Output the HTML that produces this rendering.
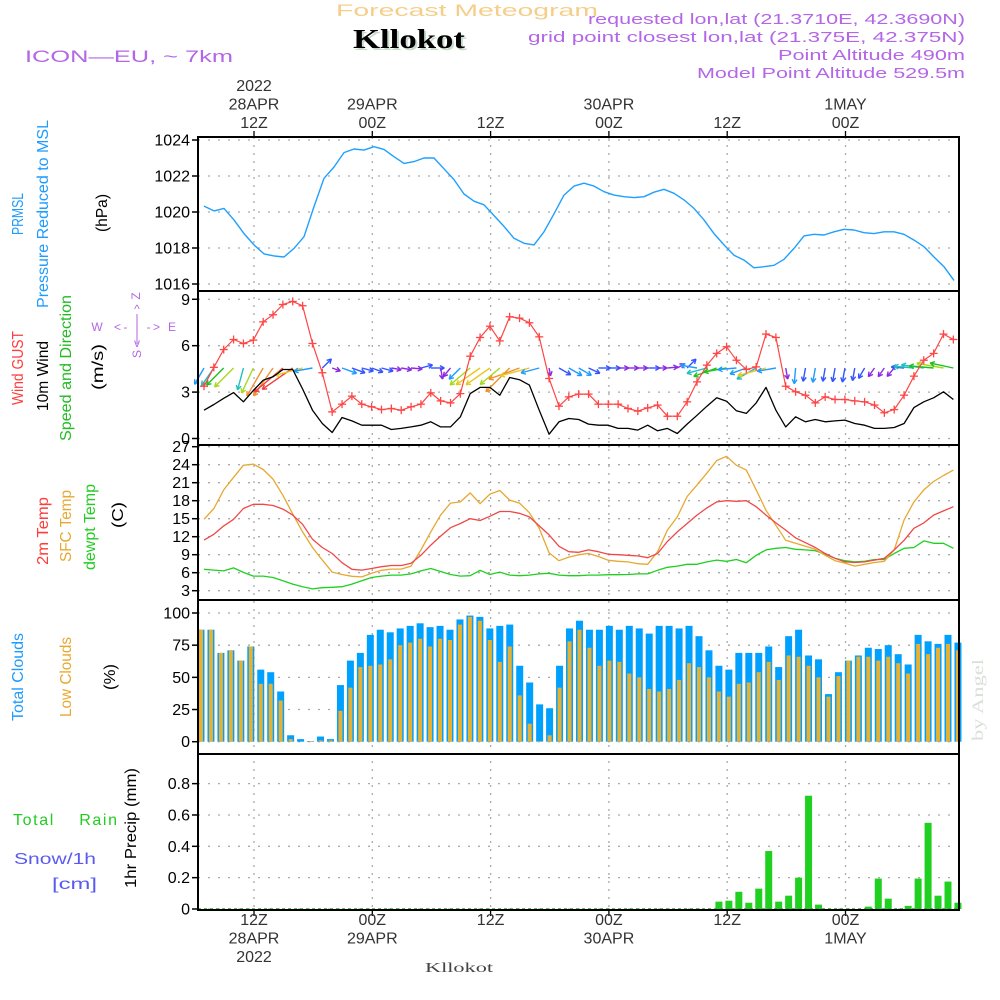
<!DOCTYPE html>
<html><head><meta charset="utf-8"><title>Forecast Meteogram - Kllokot</title>
<style>
html,body{margin:0;padding:0;background:#fff;}
svg{display:block;font-family:"Liberation Sans",sans-serif;}
</style></head>
<body>
<svg id="chart" width="1000" height="1000" viewBox="0 0 1000 1000" xmlns="http://www.w3.org/2000/svg">
<rect x="0" y="0" width="1000" height="1000" fill="#fff"/>
<g>
<text x="467" y="16" text-anchor="middle" fill="#f5cf8a" font-size="17" textLength="262" lengthAdjust="spacingAndGlyphs">Forecast Meteogram</text>
<text x="411" y="50" text-anchor="middle" fill="#c9dccb" font-size="27" font-weight="bold" font-family="Liberation Serif, serif" textLength="112" lengthAdjust="spacingAndGlyphs">Kllokot</text>
<text x="409" y="48" text-anchor="middle" fill="#000" font-size="27" font-weight="bold" font-family="Liberation Serif, serif" textLength="112" lengthAdjust="spacingAndGlyphs">Kllokot</text>
<text x="25" y="62" fill="#b366e6" font-size="17" textLength="208" lengthAdjust="spacingAndGlyphs">ICON—EU, ~ 7km</text>
<text x="965" y="24" text-anchor="end" fill="#b366e6" font-size="15" textLength="377" lengthAdjust="spacingAndGlyphs">requested lon,lat (21.3710E, 42.3690N)</text>
<text x="965" y="42" text-anchor="end" fill="#b366e6" font-size="15" textLength="437" lengthAdjust="spacingAndGlyphs">grid point closest lon,lat (21.375E, 42.375N)</text>
<text x="965" y="60" text-anchor="end" fill="#b366e6" font-size="15" textLength="187" lengthAdjust="spacingAndGlyphs">Point Altitude 490m</text>
<text x="965" y="78" text-anchor="end" fill="#b366e6" font-size="15" textLength="268" lengthAdjust="spacingAndGlyphs">Model Point Altitude 529.5m</text>
</g>
<g id="labels" font-size="16">
<text transform="translate(23,214) rotate(-90)" text-anchor="middle" fill="#1e9bff" textLength="42" lengthAdjust="spacingAndGlyphs">PRMSL</text>
<text transform="translate(48,214) rotate(-90)" text-anchor="middle" fill="#1e9bff" textLength="188" lengthAdjust="spacingAndGlyphs">Pressure Reduced to MSL</text>
<text transform="translate(107,213) rotate(-90)" text-anchor="middle" fill="#000" textLength="38" lengthAdjust="spacingAndGlyphs">(hPa)</text>
<text transform="translate(23,368) rotate(-90)" text-anchor="middle" fill="#ff3b3b" textLength="74" lengthAdjust="spacingAndGlyphs">Wind GUST</text>
<text transform="translate(48,376) rotate(-90)" text-anchor="middle" fill="#000" textLength="70" lengthAdjust="spacingAndGlyphs">10m Wind</text>
<text transform="translate(71,368) rotate(-90)" text-anchor="middle" fill="#22bb22" textLength="146" lengthAdjust="spacingAndGlyphs">Speed and Direction</text>
<text transform="translate(103,367) rotate(-90)" text-anchor="middle" fill="#000" textLength="46" lengthAdjust="spacingAndGlyphs">(m/s)</text>
<g fill="#b366e6" font-size="12">
<text x="136" y="300" text-anchor="middle" transform="rotate(-90 136 296)">Z</text>
<text x="97" y="331" text-anchor="middle">W</text>
<text x="137" y="331" text-anchor="middle" textLength="46" lengthAdjust="spacing">&lt;- | -&gt;</text>
<text x="172" y="331" text-anchor="middle">E</text>
<text x="137" y="313" text-anchor="middle">^</text>
<line x1="137" y1="314" x2="137" y2="344" stroke="#b366e6" stroke-width="1"/>
<text x="137" y="347" text-anchor="middle">v</text>
<text x="137" y="358" text-anchor="middle" transform="rotate(-90 137 354)">S</text>
</g>
<text transform="translate(48,531) rotate(-90)" text-anchor="middle" fill="#ff3b3b" textLength="68" lengthAdjust="spacingAndGlyphs">2m Temp</text>
<text transform="translate(71,526) rotate(-90)" text-anchor="middle" fill="#e8a830" textLength="72" lengthAdjust="spacingAndGlyphs">SFC Temp</text>
<text transform="translate(95,527) rotate(-90)" text-anchor="middle" fill="#22cc22" textLength="86" lengthAdjust="spacingAndGlyphs">dewpt Temp</text>
<text transform="translate(123,515) rotate(-90)" text-anchor="middle" fill="#000" textLength="26" lengthAdjust="spacingAndGlyphs">(C)</text>
<text transform="translate(23,677) rotate(-90)" text-anchor="middle" fill="#1e9bff" textLength="88" lengthAdjust="spacingAndGlyphs">Total Clouds</text>
<text transform="translate(71,677) rotate(-90)" text-anchor="middle" fill="#e8a830" textLength="80" lengthAdjust="spacingAndGlyphs">Low Clouds</text>
<text transform="translate(115,677) rotate(-90)" text-anchor="middle" fill="#000" textLength="26" lengthAdjust="spacingAndGlyphs">(%)</text>
<text x="13" y="825" fill="#22cc22" textLength="104" lengthAdjust="spacing">Total&#160;&#160;&#160;&#160;Rain</text>
<text x="14" y="864" fill="#5a5af0" textLength="82" lengthAdjust="spacingAndGlyphs">Snow/1h</text>
<text x="52" y="889" fill="#5a5af0" textLength="45" lengthAdjust="spacingAndGlyphs">[cm]</text>
<text transform="translate(136,828) rotate(-90)" text-anchor="middle" fill="#000" textLength="120" lengthAdjust="spacingAndGlyphs">1hr Precip (mm)</text>
<text transform="translate(983,700) rotate(-90)" text-anchor="middle" fill="#d8e0d8" font-family="Liberation Serif, serif" font-size="16" textLength="82" lengthAdjust="spacingAndGlyphs">by Angel</text>
<text x="459" y="972" text-anchor="middle" fill="#444" font-family="Liberation Serif, serif" font-size="14" textLength="68" lengthAdjust="spacingAndGlyphs">Kllokot</text>
</g>
<g id="plot"></g>
</svg>
<script>
// ---- data ----
var pressure = [1020.33,1020.06,1020.2,1019.56,1018.8,1018.17,1017.67,1017.56,1017.5,1017.98,1018.63,1020.3,1021.87,1022.5,1023.3,1023.5,1023.44,1023.63,1023.48,1023.07,1022.7,1022.8,1023.0,1023.0,1022.4,1021.8,1021.0,1020.6,1020.4,1019.8,1019.2,1018.54,1018.26,1018.17,1018.9,1019.9,1020.94,1021.44,1021.6,1021.44,1021.13,1020.94,1020.85,1020.8,1020.85,1021.1,1021.26,1021.04,1020.67,1020.2,1019.56,1018.8,1018.17,1017.6,1017.33,1016.9,1016.96,1017.04,1017.37,1017.98,1018.67,1018.76,1018.72,1018.9,1019.04,1019.0,1018.85,1018.8,1018.9,1018.9,1018.76,1018.44,1018.07,1017.5,1016.96,1016.2];
var gust = [3.38,4.6,5.75,6.4,6.14,6.36,7.54,8.0,8.66,8.86,8.58,6.14,4.25,1.72,2.22,2.74,2.22,2.05,1.87,1.94,1.83,2.05,2.22,2.95,2.43,2.3,2.9,5.32,6.53,7.26,6.31,7.87,7.78,7.48,6.57,3.88,2.09,2.69,2.87,2.87,2.22,2.22,2.22,1.94,1.77,1.98,2.16,1.44,1.44,2.37,3.66,4.74,5.5,5.93,5.06,4.46,4.63,6.75,6.53,3.38,3.02,2.8,2.3,2.69,2.52,2.52,2.43,2.37,2.16,1.66,1.87,2.8,4.03,5.06,5.5,6.75,6.4];
var wind10m = [1.83,2.2,2.6,2.97,2.37,3.1,3.77,3.99,4.46,4.46,3.2,1.83,0.97,0.39,1.36,1.14,0.86,0.86,0.86,0.58,0.65,0.75,0.86,1.08,0.75,0.75,1.4,2.9,3.3,3.3,2.8,3.94,3.8,3.45,1.83,0.28,1.08,1.29,1.23,0.93,0.86,0.86,0.65,0.65,0.54,0.86,0.5,0.65,0.32,0.93,1.5,2.09,2.63,2.41,1.79,1.62,2.3,3.3,1.83,0.75,1.4,1.08,1.23,1.08,1.14,1.19,0.97,0.86,0.65,0.65,0.71,0.97,2.0,2.37,2.63,3.02,2.52];
var windDir = [240,235,225,225,255,245,240,235,220,215,195,190,45,-20,-20,-20,-15,-20,-15,-10,-10,-5,15,0,-80,230,225,220,215,215,220,225,200,195,195,-80,-30,-30,-30,-25,0,0,0,0,0,0,0,5,30,45,170,195,200,190,185,200,210,195,190,-80,-95,-100,-100,-100,-100,-100,-100,-120,-125,-125,-130,175,175,172,175,170,168];
var temp2m = [11.44,12.4,13.8,14.9,16.7,17.4,17.4,17.2,16.6,15.6,14.06,11.56,10.2,9.2,7.67,6.56,6.44,6.7,7.0,7.2,7.2,7.56,8.9,10.6,12.1,13.5,14.2,15.0,14.7,15.4,16.2,16.2,15.9,15.3,13.8,12.3,10.4,9.5,9.4,9.8,9.5,9.06,9.0,8.9,8.8,8.5,9.2,11.2,12.8,14.2,15.6,16.8,17.8,18.0,17.9,18.0,17.0,15.6,14.3,13.1,11.8,11.0,10.2,9.2,8.4,7.8,7.7,7.8,8.1,8.4,9.8,11.4,13.4,14.3,15.6,16.3,17.0];
var tempSfc = [14.9,16.7,19.8,21.9,23.9,24.1,23.2,21.6,18.9,15.8,12.8,10.2,8.1,6.1,5.7,5.4,5.3,5.9,6.4,6.6,6.6,7.1,9.8,12.8,15.6,17.6,17.8,19.3,17.5,19.1,19.7,18.1,17.6,16.0,13.4,9.3,8.0,8.6,9.0,9.2,8.7,8.06,7.9,7.8,7.5,7.4,9.5,13.1,15.3,18.7,20.6,22.6,24.7,25.4,23.9,23.1,19.8,16.4,13.9,11.4,10.9,10.4,9.9,8.9,8.0,7.6,7.1,7.4,7.7,7.9,9.8,14.8,17.8,19.8,21.2,22.2,23.1];
var dewpt = [6.56,6.44,6.3,6.8,6.05,5.44,5.44,5.2,4.67,4.1,3.67,3.3,3.5,3.56,3.67,4.1,4.67,5.2,5.44,5.6,5.6,5.8,6.3,6.7,6.2,5.7,5.44,5.5,6.4,5.7,6.1,5.6,5.5,5.6,5.8,5.9,5.6,5.5,5.5,5.6,5.6,5.67,5.67,5.7,5.8,5.8,6.4,6.9,7.1,7.4,7.4,7.8,8.1,7.9,8.2,7.67,8.9,9.8,10.06,10.2,9.9,9.8,9.67,9.1,8.4,8.0,7.8,7.9,8.2,8.2,9.2,10.06,10.2,11.3,10.9,10.9,10.06];
var totalClouds = [87,87,69,71,63,74,56,54,39,5,2,0.5,4,2,44,63,69,83,87,85,88,90,92,89,90,87,95,98,97,88,90,91,59,46,29,26,59,88,94,87,87,90,87,90,88,84,90,90,88,90,82,71,59,56,69,69,69,74,58,82,87,67,64,37,54,63,67,73,72,75,68,60,83,78,76,83,77];
var lowClouds = [87,87,69,71,63,74,45,45,32,2,0,0.5,1,1,24,42,58,59,60,64,75,77,80,74,80,79,91,97,94,79,62,74,36,14,0.5,5,42,78,87,73,59,63,62,53,50,41,39,41,48,61,58,50,39,35,45,46,54,62,48,67,66,59,50,35,51,63,66,66,63,66,61,53,76,68,73,76,71];
var rain = [0,0,0,0,0,0,0,0,0,0,0,0,0,0,0,0,0,0,0,0,0,0,0,0,0,0,0,0,0,0,0,0,0,0,0,0,0,0,0,0,0,0,0,0,0,0,0,0,0,0,0,0,0.047,0.053,0.11,0.04,0.13,0.37,0.047,0.085,0.2,0.723,0.028,0,0,0,0,0.015,0.194,0.066,0,0.02,0.194,0.55,0.085,0.175,0.04];
var pressTicks = [1016,1018,1020,1022,1024];
var windTicks = [0,3,6,9];
var tempTicks = [3,6,9,12,15,18,21,24,27];
var cloudTicks = [0,25,50,75,100];
var rainTicks = [0,0.2,0.4,0.6,0.8];
var rainTickLabels = ["0","0.2","0.4","0.6","0.8"];
var topTimeLabels = [["2022","28APR","12Z"],["","29APR","00Z"],["","","12Z"],["","30APR","00Z"],["","","12Z"],["","1MAY","00Z"]];
var bottomTimeLabels = [["12Z","28APR","2022"],["00Z","29APR",""],["12Z","",""],["00Z","30APR",""],["12Z","",""],["00Z","1MAY",""]];

// ---- axes ----
var NS = "http://www.w3.org/2000/svg";
var plot = document.getElementById('plot');
var X0 = 198, X1 = 959;
function xL(k){ return 204 + k*9.86; }
function xB(k){ return 201 + k*9.96; }
function xP(k){ return 204 + k*10; }
function xG(j){ return 254 + j*118.3; }
function yP(v){ return 284 - (v-1016)*18; }
function yW(v){ return 438.5 - v*15.47; }
function yT(v){ return 590.7 - (v-3)*6; }
function yC(v){ return 741.7 - v*1.287; }
function yR(v){ return 909 - v*156.7; }
var panels = [[137,291],[291,445],[445,600],[600,754],[754,910]];

function el(tag, attrs, parent){
  var e = document.createElementNS(NS, tag);
  for (var a in attrs) e.setAttribute(a, attrs[a]);
  (parent||plot).appendChild(e);
  return e;
}
function poly(xs, ys, color, w, name){
  var pts = [];
  for (var i=0;i<xs.length;i++) pts.push(xs[i].toFixed(1)+','+ys[i].toFixed(1));
  var p = el('polyline',{points:pts.join(' '),fill:'none',stroke:color,'stroke-width':w,'stroke-linejoin':'round'});
  
  
  return p;
}

var grid = el('g',{});


function hgrid(ticks, yf, labels){
  for (var i=0;i<ticks.length;i++){
    var y = yf(ticks[i]);
    el('line',{x1:X0,x2:X1,y1:y,y2:y,stroke:'#aaa','stroke-width':1.3,'stroke-dasharray':'2,8'},grid);
    el('line',{x1:X0-6,x2:X0,y1:y,y2:y,stroke:'#000','stroke-width':1.5},grid);
    var t = el('text',{x:X0-8,y:y+5.5,'text-anchor':'end','font-size':16,fill:'#000'});
    t.textContent = labels ? labels[i] : String(ticks[i]);
    
    
  }
}
hgrid(pressTicks, yP, null);
hgrid(windTicks, yW, null);
hgrid(tempTicks, yT, null);
hgrid(cloudTicks, yC, null);
hgrid(rainTicks, yR, rainTickLabels);
for (var j=0;j<6;j++){
  var gx = xG(j);
  el('line',{x1:gx,x2:gx,y1:137,y2:910,stroke:'#aaa','stroke-width':1.3,'stroke-dasharray':'2,6'},grid);
  el('line',{x1:gx,x2:gx,y1:131,y2:137,stroke:'#000','stroke-width':1.3},grid);
  el('line',{x1:gx,x2:gx,y1:910,y2:916,stroke:'#000','stroke-width':1.3},grid);
  for (var r=0;r<3;r++){
    if (topTimeLabels[j][r]){
      var t = el('text',{x:gx,y:91+r*18.5,'text-anchor':'middle','font-size':16,fill:'#333'});
      t.textContent = topTimeLabels[j][r];
      
      
    }
    if (bottomTimeLabels[j][r]){
      var t2 = el('text',{x:gx,y:925+r*18.5,'text-anchor':'middle','font-size':16,fill:'#333'});
      t2.textContent = bottomTimeLabels[j][r];
      
      
    }
  }
}

var cg = el('g',{});


for (var k=0;k<totalClouds.length;k++){
  var bx = xB(k);
  var b = el('rect',{x:bx-3.5,y:yC(totalClouds[k]),width:7,height:yC(0)-yC(totalClouds[k]),fill:'#00a0ff'},cg);
  
  
  var b2 = el('rect',{x:bx-2,y:yC(lowClouds[k]),width:4,height:yC(0)-yC(lowClouds[k]),fill:'#e8b030'},cg);
  
  
}
var rg = el('g',{});


for (var k=0;k<rain.length;k++){
  if (rain[k] <= 0) continue;
  var bx = xB(k);
  var rb = el('rect',{x:bx-3.5,y:yR(rain[k]),width:7,height:yR(0)-yR(rain[k]),fill:'#20d020'},rg);
  
  
}
el('line',{x1:X0,x2:X1,y1:yR(0),y2:yR(0),stroke:'#2a2',"stroke-width":1.5,"stroke-dasharray":"3,3"});

var px=[],py=[];
for (var k=0;k<pressure.length;k++){ px.push(xP(k)); py.push(yP(pressure[k])); }
poly(px,py,'#1ea0ff',1.4,'pressure-line');

function spdColor(s){
  if (s<0.8) return '#8a2be2';
  if (s<1.2) return '#3355ff';
  if (s<1.9) return '#1e9bff';
  if (s<2.4) return '#20c0c0';
  if (s<2.8) return '#20c020';
  if (s<3.2) return '#a8d820';
  if (s<3.6) return '#e8c820';
  if (s<4.0) return '#f09030';
  return '#f04040';
}
var wg = el('g',{});


for (var k=0;k<windDir.length;k++){
  var s = wind10m[k], L = 6 + 7*s, a = windDir[k]*Math.PI/180;
  var x0 = xL(k), y0 = 368;
  var x1 = x0 + L*Math.cos(a), y1 = y0 - L*Math.sin(a);
  var c = spdColor(s);
  var ag = el('g',{stroke:c,'stroke-width':1.4,fill:'none'},wg);
  
  
  el('line',{x1:x0,y1:y0,x2:x1,y2:y1},ag);
  var h = 5;
  for (var sgn=-1;sgn<=1;sgn+=2){
    var bb = a + Math.PI + sgn*0.5;
    el('line',{x1:x1,y1:y1,x2:x1+h*Math.cos(bb),y2:y1-h*Math.sin(bb)},ag);
  }
}
var bx_=[],by_=[];
for (var k=0;k<wind10m.length;k++){ bx_.push(xL(k)); by_.push(yW(wind10m[k])); }
poly(bx_,by_,'#000',1.3,'wind-10m-line');
var gx_=[],gy_=[];
for (var k=0;k<gust.length;k++){ gx_.push(xL(k)); gy_.push(yW(gust[k])); }
poly(gx_,gy_,'#ff4545',1.2,'wind-gust-line');
var mg = el('g',{stroke:'#ff4545','stroke-width':1.3});


for (var k=0;k<gust.length;k++){
  var mx = gx_[k], my = gy_[k];
  el('line',{x1:mx-4,x2:mx+4,y1:my,y2:my},mg);
  el('line',{x1:mx,x2:mx,y1:my-4,y2:my+4},mg);
}

function tline(arr,color,name){
  var xs=[],ys=[];
  for (var k=0;k<arr.length;k++){ xs.push(xL(k)); ys.push(yT(arr[k])); }
  poly(xs,ys,color,1.3,name);
}
tline(dewpt,'#20d020','dewpoint-line');
tline(tempSfc,'#e8a830','sfc-temp-line');
tline(temp2m,'#f04848','temp-2m-line');

for (var i=0;i<panels.length;i++){
  var f = el('rect',{x:X0,y:panels[i][0],width:X1-X0,height:panels[i][1]-panels[i][0],fill:'none',stroke:'#000','stroke-width':2});
  
  
}
</script>
</body></html>
